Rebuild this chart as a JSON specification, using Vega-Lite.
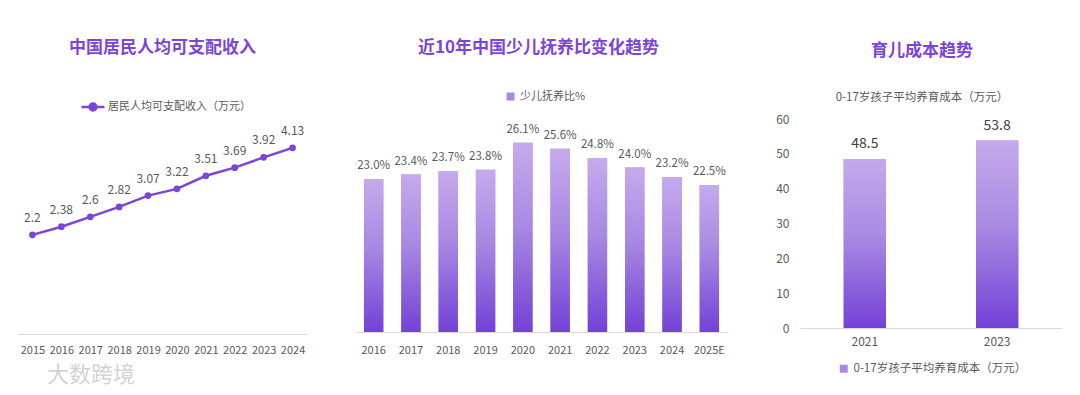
{
  "$schema": "https://vega.github.io/schema/vega-lite/v6.json",
  "padding": {"left": 18, "top": 39, "right": 10, "bottom": 4},
  "background": "white",
  "config": {
    "font": "Noto Sans CJK SC",
    "view": {"stroke": null},
    "title": {"color": "#7B45D8", "fontSize": 17, "fontWeight": "bold", "anchor": "middle"},
    "axis": {"grid": false, "ticks": false, "labelColor": "#595959", "domainColor": "#D9D9D9", "title": null},
    "legend": {"labelColor": "#595959", "labelFont": "Noto Sans CJK SC", "labelLimit": 300}
  },
  "title": {"text": "大数跨境", "orient": "bottom", "anchor": "start", "color": "#D3D3D3", "fontSize": 22, "fontWeight": "normal", "dx": 29, "offset": -10},
  "spacing": 47,
  "resolve": {"scale": {"color": "independent"}, "legend": {"color": "independent"}},
  "hconcat": [
    {
      "bounds": "flush",
      "spacing": 48,
      "resolve": {"scale": {"color": "independent"}, "legend": {"color": "independent"}},
      "hconcat": [
        {
          "width": 289,
          "height": 215,
          "title": {"text": "中国居民人均可支配收入", "offset": 37},
          "data": {"values": [
            {"year": "2015", "v": 2.2, "s": "居民人均可支配收入（万元）"},
            {"year": "2016", "v": 2.38, "s": "居民人均可支配收入（万元）"},
            {"year": "2017", "v": 2.6, "s": "居民人均可支配收入（万元）"},
            {"year": "2018", "v": 2.82, "s": "居民人均可支配收入（万元）"},
            {"year": "2019", "v": 3.07, "s": "居民人均可支配收入（万元）"},
            {"year": "2020", "v": 3.22, "s": "居民人均可支配收入（万元）"},
            {"year": "2021", "v": 3.51, "s": "居民人均可支配收入（万元）"},
            {"year": "2022", "v": 3.69, "s": "居民人均可支配收入（万元）"},
            {"year": "2023", "v": 3.92, "s": "居民人均可支配收入（万元）"},
            {"year": "2024", "v": 4.13, "s": "居民人均可支配收入（万元）"}
          ]},
          "layer": [
            {
              "mark": {"type": "line", "strokeWidth": 2.5, "point": {"filled": true, "size": 45}},
              "encoding": {
                "x": {"field": "year", "type": "ordinal", "scale": {"type": "point", "padding": 0.5},
                      "axis": {"labelAngle": 0, "labelFontSize": 11, "labelPadding": 10}},
                "y": {"field": "v", "type": "quantitative", "scale": {"domain": [0, 4.77], "nice": false}, "axis": null},
                "color": {"field": "s", "type": "nominal", "scale": {"range": ["#7B45D8"]},
                  "legend": {"title": null, "orient": "none", "legendX": 62, "legendY": -25,
                    "symbolType": "M-1,0H1M-0.3,0A0.3,0.3,0,1,0,0.3,0A0.3,0.3,0,1,0,-0.3,0",
                    "symbolSize": 530, "symbolStrokeWidth": 2.5, "symbolFillColor": "#7B45D8",
                    "labelFontSize": 11, "labelOffset": 2}}
              }
            },
            {
              "mark": {"type": "text", "dy": -17, "fontSize": 12, "color": "#595959"},
              "encoding": {
                "x": {"field": "year", "type": "ordinal"},
                "y": {"field": "v", "type": "quantitative"},
                "text": {"field": "v", "type": "quantitative", "format": "~g"}
              }
            }
          ]
        },
        {
          "width": 373,
          "height": 213,
          "title": {"text": "近10年中国少儿抚养比变化趋势", "offset": 34, "dx": -3},
          "data": {"values": [
            {"year": "2016", "v": 0.230, "s": "少儿抚养比%"},
            {"year": "2017", "v": 0.234, "s": "少儿抚养比%"},
            {"year": "2018", "v": 0.237, "s": "少儿抚养比%"},
            {"year": "2019", "v": 0.238, "s": "少儿抚养比%"},
            {"year": "2020", "v": 0.261, "s": "少儿抚养比%"},
            {"year": "2021", "v": 0.256, "s": "少儿抚养比%"},
            {"year": "2022", "v": 0.248, "s": "少儿抚养比%"},
            {"year": "2023", "v": 0.240, "s": "少儿抚养比%"},
            {"year": "2024", "v": 0.232, "s": "少儿抚养比%"},
            {"year": "2025E", "v": 0.225, "s": "少儿抚养比%"}
          ]},
          "encoding": {
            "x": {"field": "year", "type": "ordinal", "scale": {"paddingInner": 0.48, "paddingOuter": 0.24},
                  "axis": {"labelAngle": 0, "labelFontSize": 11, "labelPadding": 12}},
            "y": {"field": "v", "type": "quantitative", "scale": {"domain": [0.1, 0.2813], "zero": false, "nice": false}, "axis": null}
          },
          "layer": [
            {
              "mark": {"type": "bar"},
              "encoding": {
                "y2": {"datum": 0.1},
                "color": {"field": "s", "type": "nominal", "scale": {"range": ["#A988E2"]},
                  "legend": {"title": null, "orient": "none", "legendX": 150, "legendY": -28,
                    "symbolType": "square", "symbolSize": 64, "labelFontSize": 11}}
              }
            },
            {
              "mark": {"type": "bar", "color": {"gradient": "linear", "x1": 0, "y1": 0, "x2": 0, "y2": 1,
                "stops": [{"offset": 0, "color": "#C5ABEC"}, {"offset": 0.45, "color": "#A788E2"}, {"offset": 1, "color": "#7441D6"}]}},
              "encoding": {"y2": {"datum": 0.1}}
            },
            {
              "mark": {"type": "text", "dy": -13, "fontSize": 11.5, "color": "#595959"},
              "encoding": {
                "text": {"field": "v", "type": "quantitative", "format": ".1%"}
              }
            }
          ]
        }
      ]
    },
    {
      "width": 262,
      "height": 209,
      "title": {"text": "育儿成本趋势", "offset": 9, "dx": -9, "subtitle": "0-17岁孩子平均养育成本（万元）",
                "subtitleColor": "#595959", "subtitleFontSize": 11.5, "subtitlePadding": 32, "subtitleFont": "Noto Sans CJK SC"},
      "data": {"values": [
        {"year": "2021", "v": 48.5, "s": "0-17岁孩子平均养育成本（万元）"},
        {"year": "2023", "v": 53.8, "s": "0-17岁孩子平均养育成本（万元）"}
      ]},
      "encoding": {
        "x": {"field": "year", "type": "ordinal", "scale": {"paddingInner": 0.68, "paddingOuter": 0.33},
              "axis": {"labelAngle": 0, "labelFontSize": 12, "labelPadding": 8}},
        "y": {"field": "v", "type": "quantitative", "scale": {"domain": [0, 60], "nice": false},
              "axis": {"values": [0, 10, 20, 30, 40, 50, 60], "domain": false, "labelFontSize": 12, "labelPadding": 11}}
      },
      "layer": [
        {
          "mark": {"type": "bar"},
          "encoding": {
            "color": {"field": "s", "type": "nominal", "scale": {"range": ["#A988E2"]},
              "legend": {"title": null, "orient": "none", "legendX": 38, "legendY": 244,
                "symbolType": "square", "symbolSize": 64, "labelFontSize": 11.5}}
          }
        },
        {
          "mark": {"type": "bar", "color": {"gradient": "linear", "x1": 0, "y1": 0, "x2": 0, "y2": 1,
            "stops": [{"offset": 0, "color": "#C4AAEB"}, {"offset": 0.45, "color": "#A98AE3"}, {"offset": 1, "color": "#7441D6"}]}}
        },
        {
          "mark": {"type": "text", "dy": -15, "fontSize": 14, "color": "#404040"},
          "encoding": {
            "text": {"field": "v", "type": "quantitative", "format": "~g"}
          }
        }
      ]
    }
  ]
}
